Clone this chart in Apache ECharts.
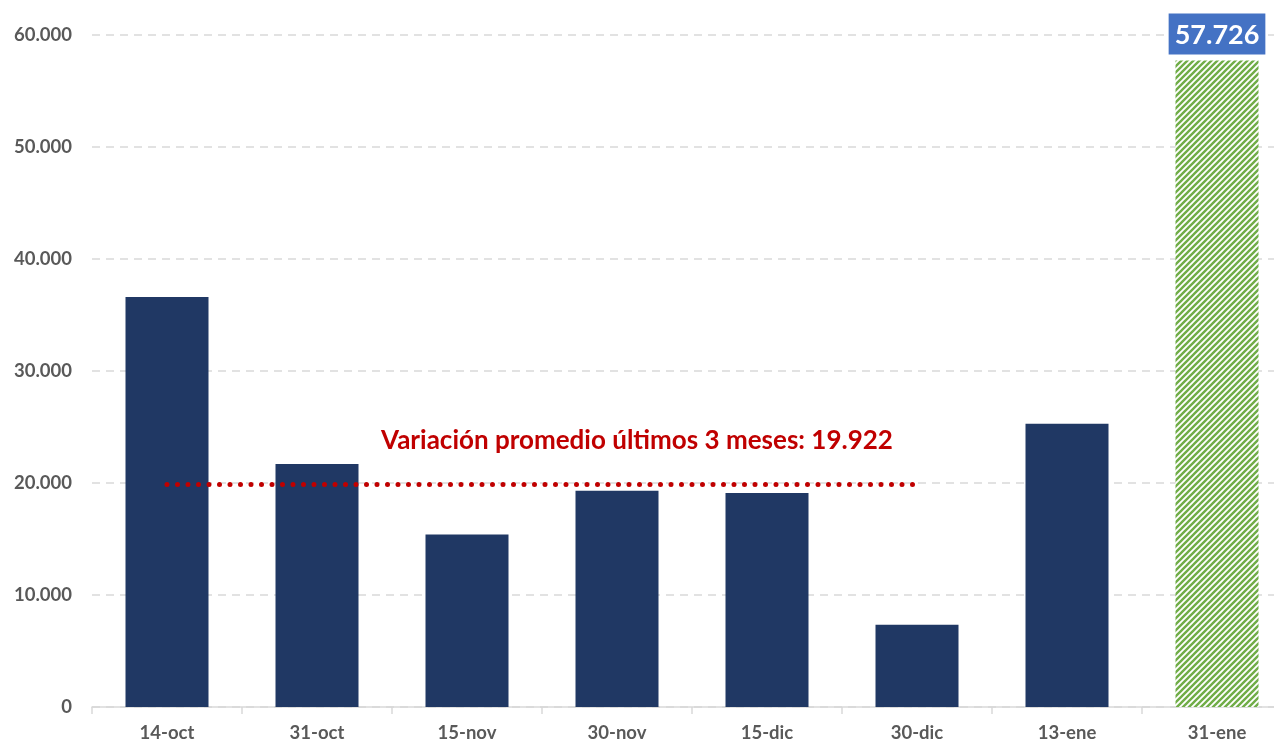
<!DOCTYPE html>
<html>
<head>
<meta charset="UTF-8">
<title></title>
<script src="https://cdn.jsdelivr.net/npm/echarts@6/dist/echarts.min.js"></script>
<style>
  html, body { margin: 0; padding: 0; background: #fff; overflow: hidden; }
  /* plot runs past the right edge of the window, as in the original */
  #main { width: 1292px; height: 744px; }
</style>
</head>
<body>
<div id="main"></div>
<script>
var categories = ['14-oct', '31-oct', '15-nov', '30-nov', '15-dic', '30-dic', '13-ene', '31-ene'];
var values = [36600, 21700, 15400, 19300, 19100, 7350, 25300, 57726];
var avgValue = 19922;
var avgFrom = '14-oct';
var avgTo = '30-dic';
var avgText = 'Variación promedio últimos 3 meses: 19.922';

var font = 'Lato';

// hatch pattern for the last bar
function makeHatch() {
    var c = document.createElement('canvas');
    c.width = 6; c.height = 6;
    var ctx = c.getContext('2d');
    ctx.fillStyle = '#fff';
    ctx.fillRect(0, 0, 6, 6);
    ctx.strokeStyle = '#70AD47';
    ctx.lineWidth = 2.4;
    ctx.beginPath();
    ctx.moveTo(-3, 3); ctx.lineTo(3, -3);
    ctx.moveTo(0, 6); ctx.lineTo(6, 0);
    ctx.moveTo(3, 9); ctx.lineTo(9, 3);
    ctx.stroke();
    return c;
}

function fmt(v) {
    return String(v).replace(/\B(?=(\d{3})+(?!\d))/g, '.');
}

var chart = echarts.init(document.getElementById('main'));

var barData = values.map(function (v, i) {
    if (i === values.length - 1) {
        return {
            value: v,
            itemStyle: { color: { image: makeHatch(), repeat: 'repeat' } },
            label: {
                show: true,
                position: 'top',
                distance: 6,
                formatter: function (p) { return fmt(p.value); },
                backgroundColor: '#4472C4',
                color: '#fff',
                fontFamily: font,
                fontWeight: 'bold',
                fontSize: 27,
                padding: [8, 6, 6, 6]
            }
        };
    }
    return v;
});

chart.setOption({
    animation: false,
    grid: { left: 92, top: 35, bottom: 37, right: 0 },
    xAxis: {
        type: 'category',
        data: categories,
        axisLine: { lineStyle: { color: '#D9D9D9', width: 1.5 } },
        axisTick: { show: true, length: 7, lineStyle: { color: '#D9D9D9', width: 1.5 } },
        axisLabel: { color: '#595959', fontFamily: font, fontWeight: 'bold', fontSize: 18.5, margin: 17 }
    },
    yAxis: {
        type: 'value',
        min: 0,
        max: 60000,
        interval: 10000,
        axisLine: { show: false },
        axisTick: { show: false },
        axisLabel: { color: '#595959', fontFamily: font, fontWeight: 'bold', fontSize: 18.5, margin: 20, formatter: fmt },
        splitLine: { lineStyle: { color: '#D9D9D9', type: [8, 6], width: 1.5 } }
    },
    series: [{
        type: 'bar',
        data: barData,
        barWidth: 83,
        itemStyle: { color: '#203864' },
        markLine: {
            silent: true,
            symbol: 'none',
            label: { show: false },
            lineStyle: { color: '#C00000', width: 5, type: [0, 10.5], cap: 'round' },
            data: [[{ coord: [avgFrom, avgValue] }, { coord: [avgTo, avgValue] }]]
        },
        markPoint: {
            silent: true,
            symbol: 'circle',
            symbolSize: 0,
            label: {
                show: true,
                position: 'inside',
                formatter: avgText,
                color: '#C00000',
                fontFamily: font,
                fontWeight: 'bold',
                fontSize: 26,
                offset: [20, -43]
            },
            data: [{ coord: ['30-nov', avgValue] }]
        }
    }]
});
</script>
</body>
</html>
